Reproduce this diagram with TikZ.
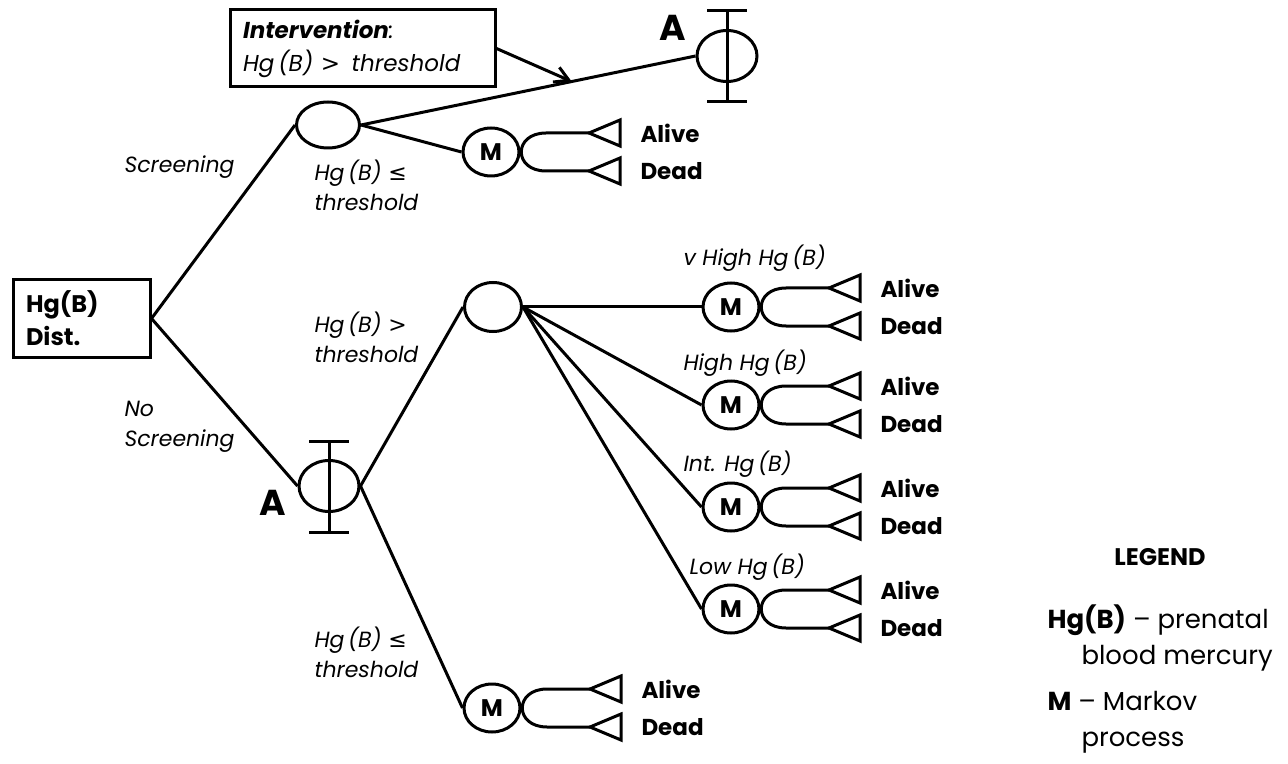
\documentclass[tikz,border=0pt]{standalone}
\usepackage{fontspec}
\setmainfont{Poppins}
\newfontfamily\symfont{DejaVu Sans}
\usetikzlibrary{shapes.geometric}
\usetikzlibrary{arrows.meta}
\tikzset{
  chance/.style={ellipse,draw,inner sep=0pt,minimum width=31.5pt,minimum height=23pt},
  markov/.style={ellipse,draw,inner sep=0pt,minimum width=28pt,minimum height=24pt,font=\bfseries\fontsize{12}{14}\selectfont},
  clone/.style={ellipse,draw,inner sep=0pt,minimum width=30pt,minimum height=25.5pt},
  infobox/.style={rectangle,draw,align=left,inner xsep=6.5pt,inner ysep=0pt,minimum height=38.5pt},
  branch/.style={anchor=west,align=left,inner sep=0pt,font=\itshape\fontsize{11}{15}\selectfont},
  outcome/.style={anchor=west,inner sep=0pt,font=\bfseries\fontsize{11.5}{14}\selectfont},
  clonelabel/.style={inner sep=0pt,font=\bfseries\fontsize{18}{20}\selectfont},
  legendtext/.style={anchor=west,align=left,inner sep=0pt,font=\fontsize{13}{18}\selectfont}
}
\newcommand{\hgle}{{\symfont ≤}}
\newcommand{\hggt}{{\symfont >}}
\newcommand{\tikzmarkov}[3]{%
\node[markov] (#1) at (#2,#3) {M};
% terminal triangles
\coordinate (#1-a) at (#2+98,#3-19);
\coordinate (#1-d) at (#2+98,#3+19);
\draw (#1-a) -- ++(31,-13) -- ++(0,26) -- cycle;
\draw (#1-d) -- ++(31,-13) -- ++(0,26) -- cycle;
% exits
\draw (#1-a) -- (#2+55,#3-19) .. controls (#2+22,#3-19) and (#2+22,#3+19) .. (#2+55,#3+19) -- (#1-d);
\node[outcome] (#1-alive) at (#2+148,#3-19) {Alive};
\node[outcome] (#1-dead) at (#2+148,#3+19) {Dead};
}
\newcommand{\tikzclone}[3]{%
\node[clone] (#1) at (#2,#3) {};
% bar through the node
\draw (#2,#3-45) -- (#2,#3+46);
\draw (#2-20,#3-45) -- (#2+20,#3-45);
\draw (#2-20,#3+46) -- (#2+20,#3+46);
}

\begin{document}
\begin{tikzpicture}[x=0.5pt,y=-0.5pt,line width=1.5pt]
\useasboundingbox (0,0) rectangle (1288,764);

\node[infobox,text width=55.5pt,minimum width=68.5pt,font=\bfseries\fontsize{12}{16.5}\selectfont] (root) at (81.5,318.5) {Hg(B)\\Dist.};
\node[infobox,text width=119.5pt,minimum width=132.5pt,font=\itshape\fontsize{11.5}{16.5}\selectfont] (interv) at (362.5,48.5) {\textbf{Intervention}:\\Hg\,(B) \hggt\ \,threshold};

\node[chance] (c1) at (328,125) {};
\node[chance,minimum width=28.5pt,minimum height=24.5pt] (c2) at (493,307) {};

\tikzclone{atop}{727}{56}
\tikzclone{abot}{329}{486}
\node[clonelabel] (atop-lbl) at (673,28) {A};
\node[clonelabel] (abot-lbl) at (273,503) {A};

\tikzmarkov{m0}{491}{152}
\tikzmarkov{m1}{731}{307}
\tikzmarkov{m2}{731}{405}
\tikzmarkov{m3}{731}{507}
\tikzmarkov{m4}{731}{609}
\tikzmarkov{m5}{492}{708}

\draw (root.east) -- (c1.west);
\draw (root.east) -- (abot.west);
\draw (c1.east) -- (atop.west);
\draw (c1.east) -- (m0.west);
\draw (abot.east) -- (c2.west);
\draw (abot.east) -- (m5.west);
\foreach \m in {m1,m2,m3,m4}
  \draw (c2.east) -- (\m.west);

\path (c1.east) -- (atop.west) coordinate[pos=0.63] (hit);
\draw[-{Straight Barb[length=7pt,width=8pt]}] (interv.east) -- (hit);

\node[branch] (l-scr) at (123,167) {Screening};
\node[branch] (l-noscr) at (123,427) {No\\Screening};
\node[branch] (l-c1low) at (313,185) {Hg\,(B) \hgle\\threshold};
\node[branch] (l-high) at (313,337) {Hg\,(B) \hggt\\threshold};
\node[branch] (l-low) at (313,652) {Hg\,(B) \hgle\\threshold};
\node[branch] (l-vhigh) at (682,258) {v High Hg\,(B)};
\node[branch] (l-hi) at (682,363) {High Hg\,(B)};
\node[branch] (l-int) at (682,464) {Int. Hg\,(B)};
\node[branch] (l-lo) at (688,567) {Low Hg\,(B)};

\node[font=\bfseries\fontsize{12}{14}\selectfont] (legend) at (1160,557) {LEGEND};
\node[legendtext] (key-hg) at (1046,638) {\textbf{Hg(B)} – prenatal\\\hspace*{17pt}blood mercury};
\node[legendtext] (key-m) at (1046,722) {\textbf{M} – Markov\\\hspace*{17pt}process};
\end{tikzpicture}
\end{document}
